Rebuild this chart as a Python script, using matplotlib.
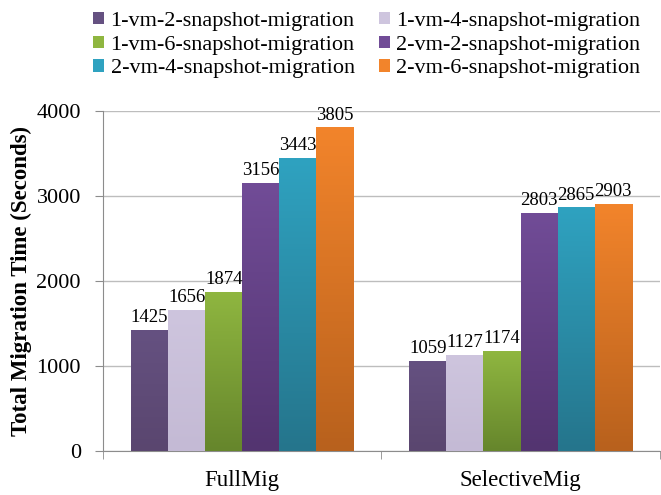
import matplotlib.pyplot as plt
import numpy as np
from matplotlib.colors import LinearSegmentedColormap
from matplotlib.patches import Patch

plt.rcParams['font.family'] = ['Liberation Serif', 'DejaVu Serif']

categories = ['FullMig', 'SelectiveMig']
series = ['1-vm-2-snapshot-migration', '1-vm-4-snapshot-migration',
          '1-vm-6-snapshot-migration', '2-vm-2-snapshot-migration',
          '2-vm-4-snapshot-migration', '2-vm-6-snapshot-migration']
values = [
    [1425, 1059],
    [1656, 1127],
    [1874, 1174],
    [3156, 2803],
    [3443, 2865],
    [3805, 2903],
]
# (top, bottom) colours for the vertical gradient of each series
colors = [
    ('#655181', '#5a466f'),
    ('#cec5de', '#c4bad5'),
    ('#8fb640', '#66862c'),
    ('#714c97', '#533470'),
    ('#2fa2c0', '#25758c'),
    ('#f2842b', '#b8611d'),
]

fig = plt.figure(figsize=(6.61, 4.95), dpi=100)
ax = fig.add_axes([0.156, 0.089, 0.842, 0.687])

x = np.arange(len(categories))
width = 0.8 / len(series)

for i, (name, vals, (ctop, cbot)) in enumerate(zip(series, values, colors)):
    offs = x - 0.4 + width * (i + 0.5)
    bars = ax.bar(offs, vals, width, color=ctop, label=name, zorder=2)
    cmap = LinearSegmentedColormap.from_list(name, [cbot, ctop])
    grad = np.linspace(0, 1, 100).reshape(-1, 1)
    for b, v in zip(bars, vals):
        bx = b.get_x()
        im = ax.imshow(grad, cmap=cmap, aspect='auto', origin='lower',
                       extent=[bx, bx + width, 0, v], zorder=3)
        im.set_clip_path(b)
        ax.text(b.get_x() + width / 2, v + 45, str(v), ha='center', va='bottom',
                fontsize=13.5, zorder=4)

ax.set_xlim(-0.5, 1.5)
ax.set_ylim(0, 4000)
ax.set_yticks([0, 1000, 2000, 3000, 4000])
ax.yaxis.grid(True, color='#bdbdbd', linewidth=1.0, zorder=0)
ax.set_axisbelow(True)

ax.set_xticks(x)
ax.set_xticklabels(categories, fontsize=16.5)
ax.set_xticks([-0.5, 0.5, 1.5], minor=True)
ax.tick_params(axis='x', which='major', length=0, pad=14)
ax.tick_params(axis='x', which='minor', length=6, color='#8c8c8c')
ax.tick_params(axis='y', labelsize=16, length=6, color='#8c8c8c', pad=10)

for s in ['top', 'right']:
    ax.spines[s].set_visible(False)
for s in ['left', 'bottom']:
    ax.spines[s].set_color('#8c8c8c')

ax.set_ylabel('Total Migration Time (Seconds)', fontsize=16.5, fontweight='bold', labelpad=3)

# legend filled row by row, two entries per row
order = [0, 2, 4, 1, 3, 5]
handles = [Patch(facecolor=colors[k][0], edgecolor='none') for k in order]
labels = [series[k] for k in order]
fig.legend(handles, labels, loc='upper center', bbox_to_anchor=(0.555, 1.016), ncol=2,
           frameon=False, fontsize=16, handlelength=0.48, handleheight=0.48,
           handletextpad=0.3, columnspacing=1.1, labelspacing=0.2)

fig.savefig('out.png', dpi=100)
